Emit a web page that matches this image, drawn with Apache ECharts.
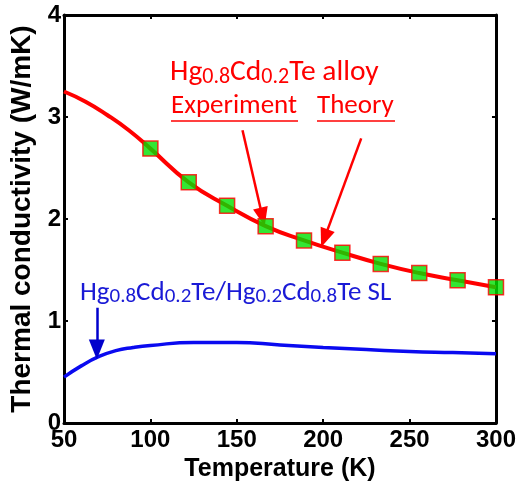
<!DOCTYPE html>
<html>
<head>
<meta charset="utf-8">
<script src="https://cdn.jsdelivr.net/npm/echarts@6/dist/echarts.min.js"></script>
<style>
  html, body { margin: 0; padding: 0; background: #fff; }
  #chart { width: 519px; height: 490px; }
</style>
</head>
<body>
<div id="chart"></div>
<script>
// theory curve, Hg0.8Cd0.2Te alloy
const theoryT = [50, 62.5, 75, 87.5, 100, 122.2, 144.4, 166.7, 188.9, 211.1, 233.3, 255.6, 277.8, 300];
const theoryK = [3.25, 3.15, 3.02, 2.87, 2.69, 2.36, 2.13, 1.93, 1.79, 1.67, 1.56, 1.47, 1.40, 1.33];

// experiment points
const expT = [100, 122.2, 144.4, 166.7, 188.9, 211.1, 233.3, 255.6, 277.8, 300];
const expK = [2.69, 2.36, 2.13, 1.93, 1.79, 1.67, 1.56, 1.47, 1.40, 1.33];

// superlattice curve
const slT = [50, 60, 70, 80, 90, 100, 125, 150, 175, 200, 225, 250, 275, 300];
const slK = [0.45, 0.56, 0.65, 0.71, 0.74, 0.76, 0.79, 0.79, 0.765, 0.74, 0.72, 0.70, 0.69, 0.68];

// annotation arrows (data coordinates: start -> tip)
const arrowExp = [[153.3, 2.87], [164.9, 2.02]];
const arrowTheory = [[222, 2.79], [200.7, 1.81]];
const arrowSL = [[69, 1.13], [69, 0.72]];

const RED = '#ff0000';
const BLUE = '#0a0af0';
const BLUE_TXT = '#1a1ad6';
const AXIS_FONT = '"Liberation Sans", Arial, sans-serif';
const NOTE_FONT = 'Carlito, Lato, sans-serif';

const chart = echarts.init(document.getElementById('chart'), null, { renderer: 'canvas' });

function parells(x, y) {
  return x.map((v, i) => [v, y[i]]);
}

function fletxa(par) {
  return [{ coord: par[0] }, { coord: par[1] }];
}

const eixX = (pos) => ({
  type: 'value',
  position: pos,
  min: 50,
  max: 300,
  interval: 50,
  axisLine: { show: true, onZero: false, lineStyle: { color: '#000', width: 3 } },
  axisTick: { show: true, inside: true, length: 4, lineStyle: { color: '#000', width: 2 } },
  axisLabel: {
    show: pos === 'bottom',
    color: '#000',
    fontFamily: AXIS_FONT,
    fontWeight: 'bold',
    fontSize: 24,
    margin: 5
  },
  splitLine: { show: false }
});

const eixY = (pos) => ({
  type: 'value',
  position: pos,
  min: 0,
  max: 4,
  interval: 1,
  axisLine: { show: true, onZero: false, lineStyle: { color: '#000', width: 3 } },
  axisTick: { show: true, inside: true, length: 4, lineStyle: { color: '#000', width: 2 } },
  axisLabel: {
    show: pos === 'left',
    color: '#000',
    fontFamily: AXIS_FONT,
    fontWeight: 'bold',
    fontSize: 24,
    margin: 3
  },
  splitLine: { show: false }
});

const xBaix = eixX('bottom');
xBaix.name = 'Temperature (K)';
xBaix.nameLocation = 'middle';
xBaix.nameGap = 34;
xBaix.nameTextStyle = { color: '#000', fontFamily: AXIS_FONT, fontWeight: 'bold', fontSize: 25 };

const yEsq = eixY('left');
yEsq.name = 'Thermal conductivity (W/mK)';
yEsq.nameLocation = 'middle';
yEsq.nameGap = 26;
yEsq.nameTextStyle = { color: '#000', fontFamily: AXIS_FONT, fontWeight: 'bold', fontSize: 28 };

const ricRed = {
  a: { fontSize: 29.5, fontFamily: NOTE_FONT, color: RED, verticalAlign: 'bottom' },
  s: { fontSize: 22, fontFamily: NOTE_FONT, color: RED, verticalAlign: 'bottom' }
};
const ricBlue = {
  a: { fontSize: 27, fontFamily: NOTE_FONT, color: BLUE_TXT, verticalAlign: 'bottom' },
  s: { fontSize: 21, fontFamily: NOTE_FONT, color: BLUE_TXT, verticalAlign: 'bottom' }
};

const option = {
  backgroundColor: '#fff',
  animation: false,
  grid: { left: 64, right: 22, top: 15, bottom: 67, containLabel: false },
  xAxis: [xBaix, eixX('top')],
  yAxis: [yEsq, eixY('right')],
  series: [
    {
      name: 'SL',
      type: 'line',
      smooth: true,
      symbol: 'none',
      lineStyle: { color: BLUE, width: 3.5 },
      data: parells(slT, slK),
      markLine: {
        silent: true,
        symbol: ['none', 'triangle'],
        symbolSize: [16, 20],
        label: { show: false },
        lineStyle: { color: '#0000cc', width: 2.5, type: 'solid' },
        data: [fletxa(arrowSL)]
      }
    },
    {
      name: 'Theory',
      type: 'line',
      smooth: true,
      symbol: 'none',
      lineStyle: { color: RED, width: 4 },
      data: parells(theoryT, theoryK),
      markLine: {
        silent: true,
        symbol: ['none', 'triangle'],
        symbolSize: [15, 19],
        label: { show: false },
        lineStyle: { color: RED, width: 2.5, type: 'solid' },
        data: [fletxa(arrowExp), fletxa(arrowTheory)]
      }
    },
    {
      name: 'Experiment',
      type: 'scatter',
      symbol: 'rect',
      symbolSize: 15,
      itemStyle: { color: '#00e000', borderColor: RED, borderWidth: 1.5 },
      data: parells(expT, expK),
      z: 5
    }
  ],
  graphic: [
    {
      type: 'text',
      left: 170,
      top: 58,
      style: { text: '{a|Hg}{s|0.8}{a|Cd}{s|0.2}{a|Te alloy}', rich: ricRed, fill: RED }
    },
    {
      type: 'text',
      left: 171,
      top: 93,
      style: { text: 'Experiment', fontSize: 27, fontFamily: NOTE_FONT, fill: RED }
    },
    {
      type: 'text',
      left: 317,
      top: 93,
      style: { text: 'Theory', fontSize: 27, fontFamily: NOTE_FONT, fill: RED }
    },
    {
      type: 'line',
      shape: { x1: 171, y1: 121, x2: 298, y2: 121 },
      style: { stroke: RED, lineWidth: 1.5 }
    },
    {
      type: 'line',
      shape: { x1: 317, y1: 121, x2: 395, y2: 121 },
      style: { stroke: RED, lineWidth: 1.5 }
    },
    {
      type: 'text',
      left: 80,
      top: 280,
      style: { text: '{a|Hg}{s|0.8}{a|Cd}{s|0.2}{a|Te/Hg}{s|0.2}{a|Cd}{s|0.8}{a|Te SL}', rich: ricBlue, fill: BLUE_TXT }
    }
  ]
};

chart.setOption(option);
</script>
</body>
</html>
